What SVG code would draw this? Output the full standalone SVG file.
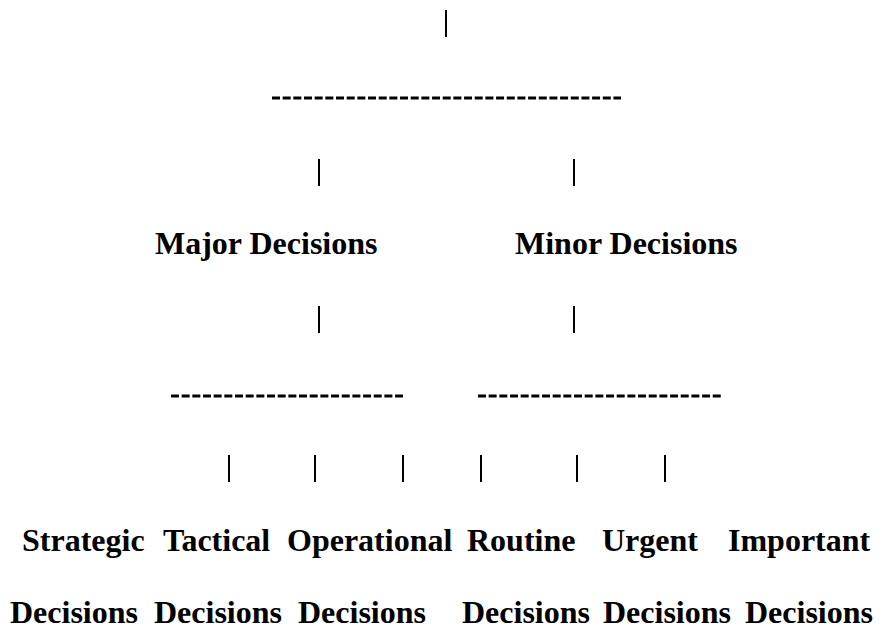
<svg xmlns="http://www.w3.org/2000/svg" width="884" height="630" viewBox="0 0 884 630">
<style>
.t{font-family:"Liberation Serif","Times New Roman",serif;font-weight:bold;font-size:32px;fill:#000}
.bar{stroke:#000;stroke-width:2;fill:none}
.dash{stroke:#000;stroke-width:3;stroke-dasharray:8 2.67;fill:none}
</style>
<rect width="884" height="630" fill="#fff"/>
<g id="connectors">
<line class="bar" x1="446" y1="10" x2="446" y2="37"/>
<line class="dash" x1="272" y1="98" x2="621" y2="98"/>
<line class="bar" x1="319" y1="159" x2="319" y2="186"/>
<line class="bar" x1="574" y1="159" x2="574" y2="186"/>
<line class="bar" x1="319" y1="306" x2="319" y2="333"/>
<line class="bar" x1="574" y1="306" x2="574" y2="333"/>
<line class="dash" x1="171" y1="396" x2="403" y2="396"/>
<line class="dash" x1="478" y1="396" x2="721" y2="396"/>
<line class="bar" x1="229" y1="455" x2="229" y2="482"/>
<line class="bar" x1="315" y1="455" x2="315" y2="482"/>
<line class="bar" x1="403" y1="455" x2="403" y2="482"/>
<line class="bar" x1="481" y1="455" x2="481" y2="482"/>
<line class="bar" x1="577" y1="455" x2="577" y2="482"/>
<line class="bar" x1="665" y1="455" x2="665" y2="482"/>
</g>
<g id="major"><text class="t" x="155" y="254">Major Decisions</text></g>
<g id="minor"><text class="t" x="515" y="254">Minor Decisions</text></g>
<g id="strategic"><text class="t" x="22" y="551">Strategic</text><text class="t" x="10" y="623">Decisions</text></g>
<g id="tactical"><text class="t" x="163" y="551">Tactical</text><text class="t" x="154" y="623">Decisions</text></g>
<g id="operational"><text class="t" x="287" y="551">Operational</text><text class="t" x="298" y="623">Decisions</text></g>
<g id="routine"><text class="t" x="467" y="551">Routine</text><text class="t" x="462" y="623">Decisions</text></g>
<g id="urgent"><text class="t" x="602" y="551">Urgent</text><text class="t" x="603" y="623">Decisions</text></g>
<g id="important"><text class="t" x="728" y="551">Important</text><text class="t" x="745" y="623">Decisions</text></g>
</svg>
